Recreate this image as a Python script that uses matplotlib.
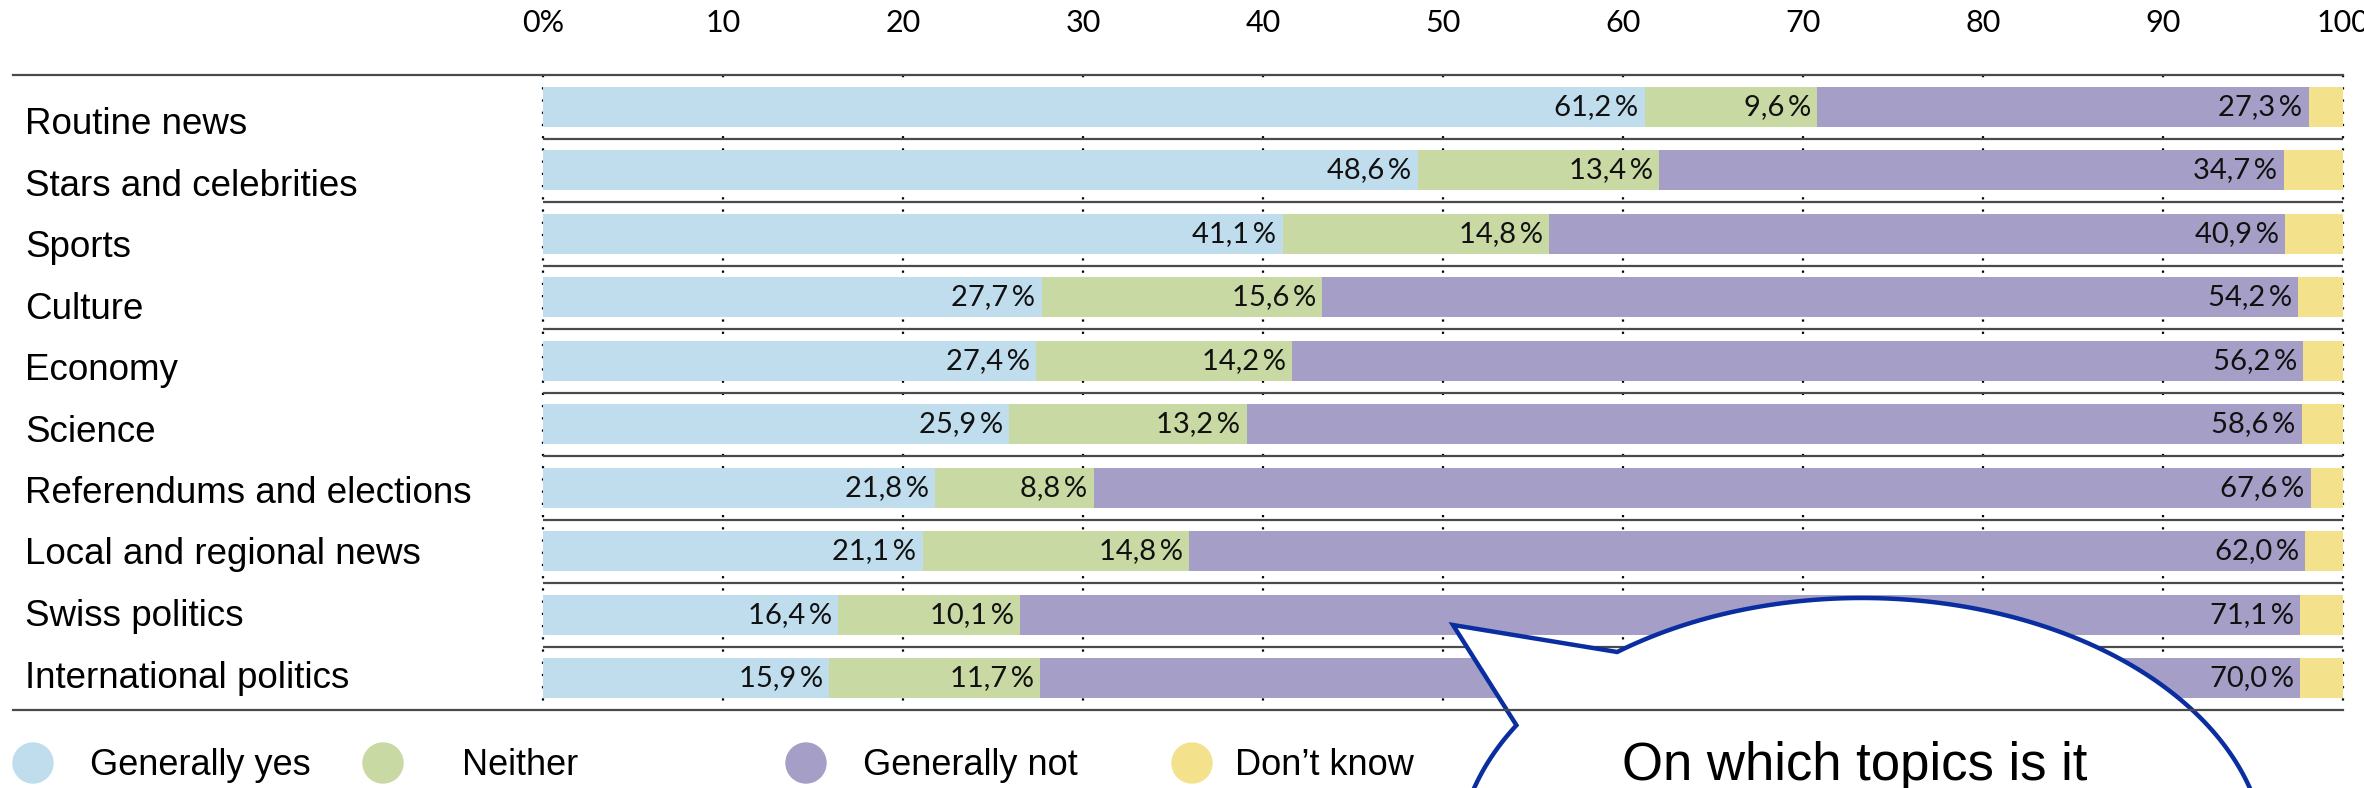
import numpy as np
import matplotlib
matplotlib.use("Agg")
import matplotlib.pyplot as plt
from matplotlib.patches import Polygon, Circle

# data (percent)
topics = ["Routine news", "Stars and celebrities", "Sports", "Culture", "Economy",
          "Science", "Referendums and elections", "Local and regional news",
          "Swiss politics", "International politics"]
generally_yes = [61.2, 48.6, 41.1, 27.7, 27.4, 25.9, 21.8, 21.1, 16.4, 15.9]
neither = [9.6, 13.4, 14.8, 15.6, 14.2, 13.2, 8.8, 14.8, 10.1, 11.7]
generally_not = [27.3, 34.7, 40.9, 54.2, 56.2, 58.6, 67.6, 62.0, 71.1, 70.0]
dont_know = [1.9, 3.3, 3.2, 2.5, 2.2, 2.3, 1.8, 2.1, 2.4, 2.4]

series_names = ["Generally yes", "Neither", "Generally not", "Don\u2019t know"]
tick_values = [0, 10, 20, 30, 40, 50, 60, 70, 80, 90, 100]
tick_labels = ["0%", "10", "20", "30", "40", "50", "60", "70", "80", "90", "100"]
bubble_text = "On which topics is it"

colors = ["#c0ddee", "#c9d9a3", "#a59fc8", "#f4e18c"]
LABEL_FONT = "Liberation Sans"
NUM_FONT = "Lato"

W, H = 2364, 788
fig = plt.figure(figsize=(W / 100, H / 100), dpi=100)

# main bar axes, placed in pixel terms
x0, x1, ytop, ybot = 543, 2343, 75, 710
ax = fig.add_axes([x0 / W, 1 - ybot / H, (x1 - x0) / W, (ybot - ytop) / H])
ax.set_xlim(0, 100)
ax.set_ylim(len(topics) - 0.5, -0.5)

ypos = np.arange(len(topics))
data = [generally_yes, neither, generally_not, dont_know]
left = np.zeros(len(topics))
for k, (vals, col) in enumerate(zip(data, colors)):
    vals = np.array(vals)
    ax.barh(ypos, vals, left=left, height=0.63, color=col, zorder=2)
    if k < 3:
        for y, l, v in zip(ypos, left, vals):
            ax.text(l + v - 0.35, y, f"{v:.1f}".replace(".", ",") + "\u2009%",
                    ha="right", va="center", fontsize=21, family=NUM_FONT,
                    color="#111111", zorder=3)
    left = left + vals

# dotted vertical grid and row separators
for t in tick_values:
    ax.plot([t, t], [-0.5, len(topics) - 0.5], color="black", lw=1.6,
            linestyle=(0, (1, 4.5)), zorder=1, clip_on=False)
for b in np.arange(0.5, len(topics) - 1, 1.0):
    ax.axhline(b, color="#4a4a4a", lw=1.6, zorder=1)

ax.set_xticks(tick_values)
ax.set_xticklabels(tick_labels, family=NUM_FONT, fontsize=22)
ax.xaxis.tick_top()
ax.tick_params(axis="x", length=0, pad=27)
ax.set_yticks([])
for s in ax.spines.values():
    s.set_visible(False)

# overlay axes in pixel coordinates for labels, legend and bubble
ov = fig.add_axes([0, 0, 1, 1], zorder=5)
ov.set_xlim(0, W)
ov.set_ylim(H, 0)
ov.axis("off")
ov.patch.set_visible(False)

ov.plot([13, x1], [ytop, ytop], color="#4a4a4a", lw=1.6)
ov.plot([13, x1], [ybot, ybot], color="#4a4a4a", lw=1.6)

for i, name in enumerate(topics):
    ov.text(25, 134 + 61.5 * i, name, ha="left", va="baseline",
            fontsize=26.5, family=LABEL_FONT, color="black")

# legend
circle_x = [33, 383, 806, 1192]
text_x = [90, 462, 863, 1235]
for cx, tx, col, name in zip(circle_x, text_x, colors, series_names):
    ov.add_patch(Circle((cx, 763), 20, color=col))
    ov.text(tx, 775, name, ha="left", va="baseline", fontsize=26,
            family=LABEL_FONT, color="black")

# speech bubble
ecx, ecy, ea, eb = 1862, 862, 404, 264
th = np.radians(np.linspace(127.3, 148.8 - 360, 300))
pts = np.column_stack([ecx + ea * np.cos(th), ecy - eb * np.sin(th)])
pts = np.vstack([pts, [[1453, 625]]])
ov.add_patch(Polygon(pts, closed=True, facecolor="white", edgecolor="#0a2ea0",
                     lw=3.2, joinstyle="miter"))
ov.text(1622, 780, bubble_text, ha="left", va="baseline", fontsize=38,
        family=LABEL_FONT, color="black")

fig.savefig("out.png", dpi=100)
